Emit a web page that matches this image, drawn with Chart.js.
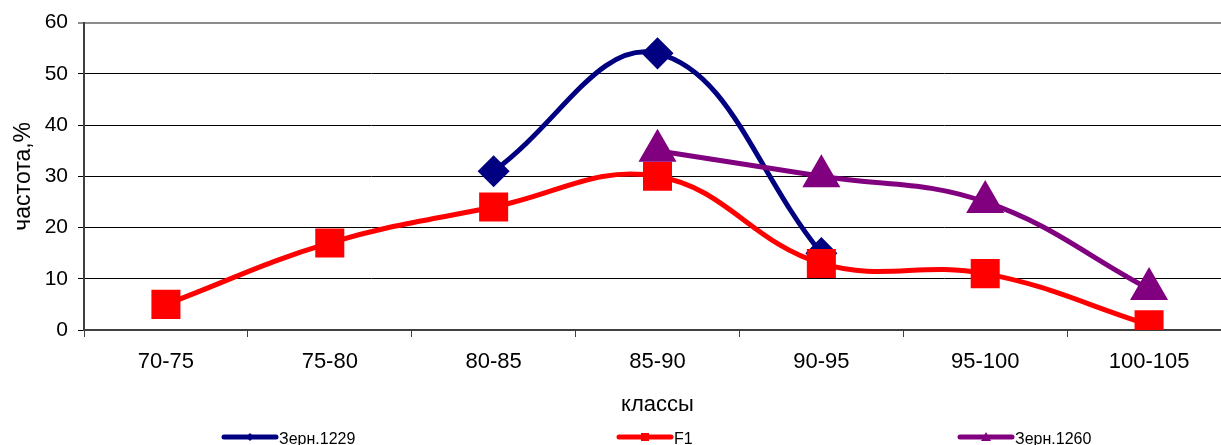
<!DOCTYPE html>
<html>
<head>
<meta charset="utf-8">
<script src="https://cdn.jsdelivr.net/npm/chart.js@4/dist/chart.umd.min.js"></script>
<style>
  html, body { margin: 0; padding: 0; background: #fff; overflow: hidden; }
  #wrap { width: 1253px; height: 445px; }
</style>
</head>
<body>
<div id="wrap"><canvas id="c" width="1253" height="445"></canvas></div>
<script>
// Size classes on the x axis
const categories = ['70-75', '75-80', '80-85', '85-90', '90-95', '95-100', '100-105'];

// Frequency (%) per class for each line
const zern1229 = [null, null, 31, 54, 15, null, null];
const f1 = [5, 17, 24, 30, 13, 11, 1];
const zern1260 = [null, null, null, 35, 30, 25, 8];

// Y axis ticks
const yTicks = [0, 10, 20, 30, 40, 50, 60];

const seriesNames = ['Зерн.1229', 'F1', 'Зерн.1260'];
const FONT = 'Arial, "Liberation Sans", sans-serif';

// Legend drawn along the bottom edge: a short line with the marker, then the name
const bottomLegend = {
  id: 'bottomLegend',
  afterDraw(chart) {
    const ctx = chart.ctx;
    const slots = [222, 617, 958];
    const y = 437;
    chart.data.datasets.forEach((ds, i) => {
      const x0 = slots[i];
      const x1 = x0 + 56;
      ctx.save();
      ctx.strokeStyle = ds.borderColor;
      ctx.lineWidth = 5;
      ctx.lineCap = 'round';
      ctx.beginPath();
      ctx.moveTo(x0 + 2, y);
      ctx.lineTo(x1 - 2, y);
      ctx.stroke();
      ctx.fillStyle = ds.borderColor;
      const cx = (x0 + x1) / 2;
      ctx.beginPath();
      if (ds.pointStyle === 'rectRot') {
        ctx.moveTo(cx, y - 4); ctx.lineTo(cx + 4, y); ctx.lineTo(cx, y + 4); ctx.lineTo(cx - 4, y);
      } else if (ds.pointStyle === 'rect') {
        ctx.rect(cx - 4, y - 4, 8, 8);
      } else {
        ctx.moveTo(cx, y - 5); ctx.lineTo(cx + 5, y + 4); ctx.lineTo(cx - 5, y + 4);
      }
      ctx.closePath();
      ctx.fill();
      ctx.fillStyle = '#000';
      ctx.font = '16px ' + FONT;
      ctx.textBaseline = 'middle';
      ctx.textAlign = 'left';
      ctx.fillText(ds.label, x1 + 1, y + 3);
      ctx.restore();
    });
  }
};

new Chart(document.getElementById('c'), {
  type: 'line',
  data: {
    labels: categories,
    datasets: [
      {
        label: seriesNames[0], data: zern1229,
        borderColor: '#000080', backgroundColor: '#000080',
        pointStyle: 'rectRot', pointRadius: 12.5, pointHoverRadius: 12.5,
        borderWidth: 5, tension: 0.4, order: 3
      },
      {
        label: seriesNames[1], data: f1,
        borderColor: '#ff0000', backgroundColor: '#ff0000',
        pointStyle: 'rect', pointRadius: 17, pointHoverRadius: 17,
        borderWidth: 5, tension: 0.4, order: 2
      },
      {
        label: seriesNames[2], data: zern1260,
        borderColor: '#800080', backgroundColor: '#800080',
        pointStyle: 'triangle', pointRadius: 17, pointHoverRadius: 17,
        borderWidth: 5, tension: 0.4, order: 1
      }
    ]
  },
  options: {
    responsive: false,
    animation: false,
    devicePixelRatio: 1,
    layout: { padding: { left: 0, top: 21, right: 5, bottom: 0 } },
    plugins: { legend: { display: false }, tooltip: { enabled: false } },
    scales: {
      x: {
        offset: true,
        grid: {
          display: true, offset: true, drawOnChartArea: false, drawTicks: true,
          tickLength: 7, color: '#404040', lineWidth: 1
        },
        border: { display: true, color: '#404040', width: 2 },
        ticks: { color: '#000', font: { family: FONT, size: 22 }, padding: 12, maxRotation: 0, autoSkip: false },
        title: { display: true, text: 'классы', color: '#000', font: { family: FONT, size: 22 }, padding: { top: 0, bottom: 27 } },
        afterFit(scale) { scale.height = 115; }
      },
      y: {
        min: 0, max: 60,
        afterBuildTicks(scale) { scale.ticks = yTicks.map(v => ({ value: v })); },
        grid: {
          color: (c) => (c.tick && c.tick.value === 60 ? '#8c8c8c' : '#000'),
          lineWidth: (c) => (c.tick && c.tick.value === 60 ? 2 : 1),
          tickLength: 6, drawTicks: true
        },
        border: { display: true, color: '#404040', width: 2 },
        ticks: { color: '#000', font: { family: FONT, size: 21 }, padding: 10 },
        title: { display: true, text: 'частота,%', color: '#000', font: { family: FONT, size: 23 }, padding: { top: 10, bottom: 0 } },
        afterFit(scale) { scale.width = 84; }
      }
    }
  },
  plugins: [bottomLegend]
});
</script>
</body>
</html>
